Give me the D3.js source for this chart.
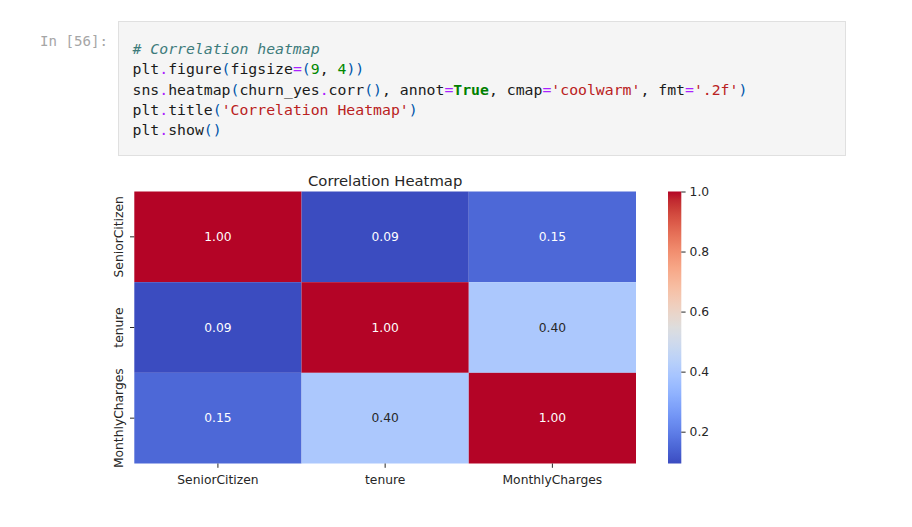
<!DOCTYPE html>
<html>
<head>
<meta charset="utf-8">
<script src="https://cdn.jsdelivr.net/npm/d3@7"></script>
<style>
  html, body { margin: 0; padding: 0; background: #fff; }
  svg { display: block; }
  text { white-space: pre; }
</style>
</head>
<body>
<svg id="chart" width="912" height="527"></svg>
<script>
// ---------- data ----------
const labels = ["SeniorCitizen", "tenure", "MonthlyCharges"];
const rowSenior = [1.00, 0.094, 0.15];
const rowTenure = [0.094, 1.00, 0.40];
const rowMonthly = [0.15, 0.40, 1.00];
const colorbarTicks = [0.2, 0.4, 0.6, 0.8, 1.0];
const chartTitle = "Correlation Heatmap";
const promptLabel = "In [56]:";
// coolwarm colormap anchor colours (Moreland, 33 steps)
const coolwarmColors = [
  "rgb(59,76,192)","rgb(68,90,204)","rgb(77,104,215)","rgb(87,117,225)",
  "rgb(98,130,234)","rgb(108,142,241)","rgb(119,154,247)","rgb(130,165,251)",
  "rgb(141,176,254)","rgb(152,185,255)","rgb(163,194,255)","rgb(174,201,253)",
  "rgb(184,208,249)","rgb(194,213,244)","rgb(204,217,238)","rgb(213,219,230)",
  "rgb(221,221,221)","rgb(229,216,209)","rgb(236,211,197)","rgb(241,204,184)",
  "rgb(245,196,172)","rgb(247,187,159)","rgb(247,177,147)","rgb(247,166,134)",
  "rgb(244,154,123)","rgb(241,141,111)","rgb(236,127,99)","rgb(229,112,88)",
  "rgb(222,96,77)","rgb(213,80,66)","rgb(203,62,56)","rgb(192,40,47)","rgb(180,4,38)"
];
// code cell lines as [text, kind] tokens
const codeLines = [
  [["# Correlation heatmap", "c"]],
  [["plt","d"],[".","o"],["figure","d"],["(","p"],["figsize","d"],["=","o"],["(","p"],["9","n"],[", ","d"],["4","n"],["))","p"]],
  [["sns","d"],[".","o"],["heatmap","d"],["(","p"],["churn_yes","d"],[".","o"],["corr","d"],["()","p"],[", annot","d"],["=","o"],["True","k"],[", cmap","d"],["=","o"],["'coolwarm'","s"],[", fmt","d"],["=","o"],["'.2f'","s"],[")","p"]],
  [["plt","d"],[".","o"],["title","d"],["(","p"],["'Correlation Heatmap'","s"],[")","p"]],
  [["plt","d"],[".","o"],["show","d"],["()","p"]]
];

const matrix = [rowSenior, rowTenure, rowMonthly];

// ---------- layout ----------
const svg = d3.select("#chart");
const W = 912, H = 527;
const ink = "#262626";
const sansFont = "'DejaVu Sans', sans-serif";
const monoFont = "'DejaVu Sans Mono', monospace";

// notebook cell
svg.append("rect").attr("x", 118.5).attr("y", 21.5).attr("width", 727).attr("height", 134)
  .attr("fill", "#f5f5f5").attr("stroke", "#e0e0e0").attr("stroke-width", 1);

svg.append("text").attr("x", 40).attr("y", 46)
  .attr("font-family", monoFont).attr("font-size", 14.1).attr("fill", "#a6a6a6")
  .text(promptLabel);

const tokenStyle = {
  d: { fill: "#1a1a1a" },
  o: { fill: "#aa22ff" },
  p: { fill: "#0055aa" },
  n: { fill: "#008800" },
  s: { fill: "#ba2121" },
  k: { fill: "#008000", weight: "bold" },
  c: { fill: "#3d7b7b", style: "italic" }
};
const codeX = 132.5, codeY0 = 54, codeLH = 20.3;
codeLines.forEach((line, i) => {
  const t = svg.append("text")
    .attr("x", codeX).attr("y", codeY0 + i * codeLH)
    .attr("font-family", monoFont).attr("font-size", 14.8);
  line.forEach(([txt, kind]) => {
    const st = tokenStyle[kind];
    t.append("tspan").text(txt)
      .attr("fill", st.fill)
      .attr("font-weight", st.weight || "normal")
      .attr("font-style", st.style || "normal");
  });
});

// heatmap
const plot = { left: 134.3, right: 636, top: 191.5, bottom: 463.5 };
const x = d3.scaleBand().domain(labels).range([plot.left, plot.right]).padding(0);
const y = d3.scaleBand().domain(labels).range([plot.top, plot.bottom]).padding(0);

const flat = [];
matrix.forEach((row, i) => row.forEach((v, j) => flat.push({ r: labels[i], c: labels[j], v })));
const vmin = d3.min(flat, d => d.v), vmax = d3.max(flat, d => d.v);
const interp = d3.piecewise(d3.interpolateRgb, coolwarmColors);
const color = d3.scaleSequential(interp).domain([vmin, vmax]);

svg.append("g").selectAll("rect").data(flat).join("rect")
  .attr("x", d => x(d.c)).attr("y", d => y(d.r))
  .attr("width", x.bandwidth()).attr("height", y.bandwidth())
  .attr("fill", d => color(d.v));

function relLum(c) {
  const rgb = d3.rgb(c);
  const f = v => { v /= 255; return v <= 0.03928 ? v / 12.92 : Math.pow((v + 0.055) / 1.055, 2.4); };
  return 0.2126 * f(rgb.r) + 0.7152 * f(rgb.g) + 0.0722 * f(rgb.b);
}
svg.append("g").selectAll("text").data(flat).join("text")
  .attr("x", d => x(d.c) + x.bandwidth() / 2)
  .attr("y", d => y(d.r) + y.bandwidth() / 2)
  .attr("text-anchor", "middle").attr("dominant-baseline", "central")
  .attr("font-family", sansFont).attr("font-size", 12.3)
  .attr("fill", d => relLum(color(d.v)) > 0.408 ? ink : "#ffffff")
  .text(d => d.v.toFixed(2));

// axes
const fontSize = 12.3;
const xAxis = svg.append("g").attr("transform", `translate(0,${plot.bottom})`)
  .call(d3.axisBottom(x).tickSize(4.3).tickPadding(4.3));
const yAxis = svg.append("g").attr("transform", `translate(${plot.left},0)`)
  .call(d3.axisLeft(y).tickSize(4.3).tickPadding(4.3));
[xAxis, yAxis].forEach(g => {
  g.select(".domain").remove();
  g.selectAll(".tick line").attr("stroke", ink).attr("stroke-width", 1);
  g.selectAll(".tick text").attr("fill", ink).attr("font-family", sansFont).attr("font-size", fontSize);
});
xAxis.selectAll(".tick text").attr("dy", null).attr("y", 20.5);
yAxis.selectAll(".tick text")
  .attr("x", null).attr("dy", null)
  .attr("text-anchor", "middle")
  .attr("transform", "translate(-11.3,0) rotate(-90)")
  .attr("y", 0);

// title
svg.append("text").attr("x", (plot.left + plot.right) / 2).attr("y", 185.5)
  .attr("text-anchor", "middle").attr("font-family", sansFont).attr("font-size", 14.8)
  .attr("fill", ink).text(chartTitle);

// colorbar
const cb = { left: 668, width: 13.3, top: plot.top, bottom: plot.bottom };
const cbScale = d3.scaleLinear().domain([vmin, vmax]).range([cb.bottom, cb.top]);
const defs = svg.append("defs");
const grad = defs.append("linearGradient").attr("id", "cbgrad")
  .attr("x1", 0).attr("y1", 1).attr("x2", 0).attr("y2", 0);
d3.range(0, 101).forEach(k => {
  const t = k / 100;
  grad.append("stop").attr("offset", t).attr("stop-color", color(vmin + t * (vmax - vmin)));
});
svg.append("rect").attr("x", cb.left).attr("y", cb.top)
  .attr("width", cb.width).attr("height", cb.bottom - cb.top)
  .attr("fill", "url(#cbgrad)");
const cbAxis = svg.append("g").attr("transform", `translate(${cb.left + cb.width},0)`)
  .call(d3.axisRight(cbScale).tickValues(colorbarTicks).tickFormat(d3.format(".1f")).tickSize(4.3).tickPadding(4));
cbAxis.select(".domain").remove();
cbAxis.selectAll(".tick line").attr("stroke", ink).attr("stroke-width", 1);
cbAxis.selectAll(".tick text").attr("fill", ink).attr("font-family", sansFont).attr("font-size", fontSize);
</script>
</body>
</html>
